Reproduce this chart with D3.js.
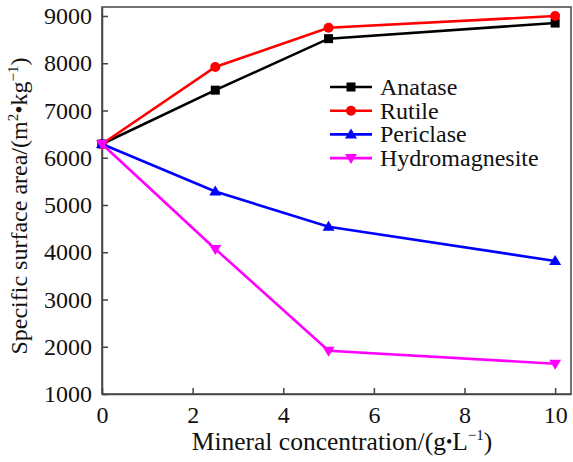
<!DOCTYPE html>
<html>
<head>
<meta charset="utf-8">
<script src="https://cdn.jsdelivr.net/npm/d3@7"></script>
<style>
  body { margin: 0; background: #fff; }
  svg text { font-family: 'Liberation Serif', 'DejaVu Serif', 'Times New Roman', Times, serif !important; }
</style>
</head>
<body>
<div id="chart"></div>
<script>
// mineral concentration (g/L)
var conc = [0, 2.5, 5, 10];
var anatase = [6290, 7430, 8520, 8850];
var rutile = [6290, 7920, 8750, 9000];
var periclase = [6290, 5285, 4540, 3815];
var hydromagnesite = [6290, 4070, 1915, 1640];
var xTicks = [0, 2, 4, 6, 8, 10];
var yTicks = [1000, 2000, 3000, 4000, 5000, 6000, 7000, 8000, 9000];

var series = [
  {name: "Anatase", values: anatase, color: "#000000", marker: "square"},
  {name: "Rutile", values: rutile, color: "#ff0000", marker: "circle"},
  {name: "Periclase", values: periclase, color: "#0000ff", marker: "up"},
  {name: "Hydromagnesite", values: hydromagnesite, color: "#ff00ff", marker: "down"}
];

var serif = "'Liberation Serif', 'DejaVu Serif', 'Times New Roman', Times, serif";
var width = 573, height = 462;
var margin = {top: 7, right: 2, bottom: 68, left: 102};

var svg = d3.select("#chart").append("svg")
    .attr("width", width)
    .attr("height", height)
    .attr("font-family", serif);

var x = d3.scaleLinear()
    .domain([0, 10.35])
    .range([margin.left, width - margin.right]);

var y = d3.scaleLinear()
    .domain([1000, 9190])
    .range([height - margin.bottom, margin.top]);

// frame
svg.append("rect")
    .attr("x", margin.left)
    .attr("y", margin.top)
    .attr("width", width - margin.right - margin.left)
    .attr("height", height - margin.bottom - margin.top)
    .attr("fill", "none")
    .attr("stroke", "#444")
    .attr("stroke-width", 1.5);

var xAxis = svg.append("g")
    .attr("transform", "translate(0," + (height - margin.bottom) + ")")
    .call(d3.axisBottom(x).tickValues(xTicks).tickFormat(d3.format("d"))
      .tickSizeInner(-6).tickSizeOuter(0).tickPadding(12));

var yAxis = svg.append("g")
    .attr("transform", "translate(" + margin.left + ",0)")
    .call(d3.axisLeft(y).tickValues(yTicks).tickFormat(d3.format("d"))
      .tickSizeInner(-6).tickSizeOuter(0).tickPadding(10));

[xAxis, yAxis].forEach(function(a) {
  a.attr("font-family", serif).attr("font-size", 24);
  a.select(".domain").attr("stroke", "#444").attr("stroke-width", 1.5);
  a.selectAll(".tick line").attr("stroke", "#444").attr("stroke-width", 1.5);
  a.selectAll(".tick text").attr("fill", "#111");
});
xAxis.selectAll(".tick text").attr("dy", "0.71em");

var line = d3.line()
    .x(function(d, i) { return x(conc[i]); })
    .y(function(d) { return y(d); });

function drawMarker(g, type, cx, cy, color) {
  if (type == "square") {
    g.append("rect").attr("x", cx - 4.5).attr("y", cy - 4.5)
      .attr("width", 9).attr("height", 9).attr("fill", color);
  } else if (type == "circle") {
    g.append("circle").attr("cx", cx).attr("cy", cy).attr("r", 5).attr("fill", color);
  } else if (type == "up") {
    g.append("path").attr("d", "M" + cx + "," + (cy - 6) + "L" + (cx + 6) + "," + (cy + 4) + "L" + (cx - 6) + "," + (cy + 4) + "Z")
      .attr("fill", color);
  } else {
    g.append("path").attr("d", "M" + cx + "," + (cy + 6) + "L" + (cx + 6) + "," + (cy - 4) + "L" + (cx - 6) + "," + (cy - 4) + "Z")
      .attr("fill", color);
  }
}

series.forEach(function(s) {
  svg.append("path")
      .datum(s.values)
      .attr("d", line)
      .attr("fill", "none")
      .attr("stroke", s.color)
      .attr("stroke-width", 2.6);
  var g = svg.append("g");
  s.values.forEach(function(v, i) {
    drawMarker(g, s.marker, x(conc[i]), y(v), s.color);
  });
});

// legend
var legend = svg.append("g").attr("transform", "translate(330,87)");
series.forEach(function(s, i) {
  var row = legend.append("g").attr("transform", "translate(0," + (i * 23.7) + ")");
  row.append("line").attr("x1", 0).attr("x2", 42).attr("y1", 0).attr("y2", 0)
    .attr("stroke", s.color).attr("stroke-width", 2.6);
  drawMarker(row, s.marker, 21, 0, s.color);
  row.append("text").attr("x", 50).attr("y", 0).attr("dy", "0.33em")
    .attr("font-size", 24).attr("fill", "#111").text(s.name);
});

// axis titles
var xt = svg.append("text")
    .attr("x", 342)
    .attr("y", 450)
    .attr("text-anchor", "middle")
    .attr("font-size", 25.5)
    .attr("fill", "#111");
xt.append("tspan").text("Mineral concentration/(g");
xt.append("tspan").attr("font-size", 18).attr("dy", -2).text("\u2022");
xt.append("tspan").attr("dy", 2).text("L");
xt.append("tspan").attr("dy", -10).attr("font-size", 15).text("\u22121");
xt.append("tspan").attr("dy", 10).text(")");

var yt = svg.append("text")
    .attr("transform", "translate(27,206) rotate(-90)")
    .attr("text-anchor", "middle")
    .attr("font-size", 24)
    .attr("fill", "#111");
yt.append("tspan").text("Specific surface area/(m");
yt.append("tspan").attr("dy", -9).attr("font-size", 15).text("2");
yt.append("tspan").attr("dy", 9).text("\u2022kg");
yt.append("tspan").attr("dy", -9).attr("font-size", 15).text("\u22121");
yt.append("tspan").attr("dy", 9).text(")");
</script>
</body>
</html>
